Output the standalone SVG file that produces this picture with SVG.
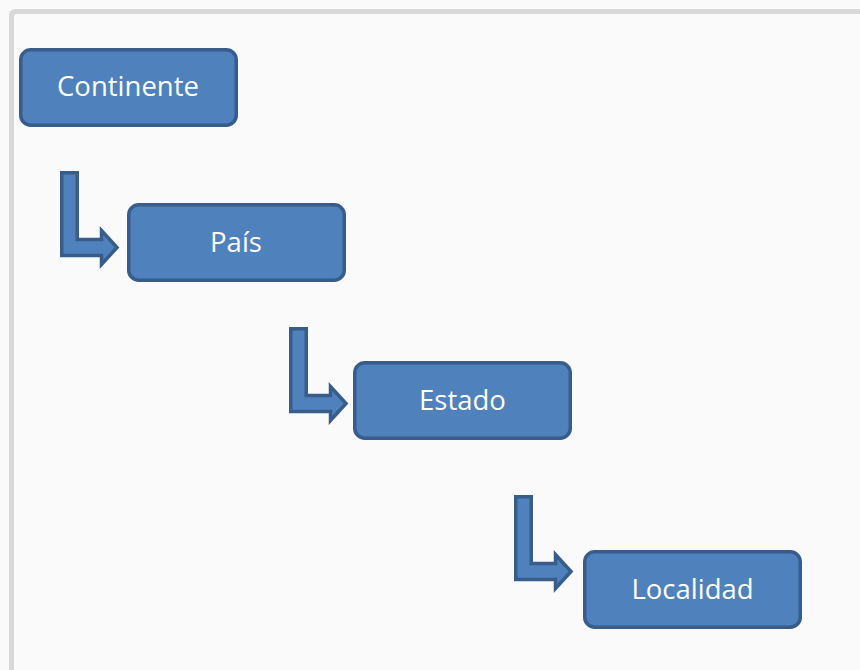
<svg xmlns="http://www.w3.org/2000/svg" width="860" height="670" viewBox="0 0 860 670">
  <defs>
    <style>
      .box { fill: #4f81bd; stroke: #385d8a; stroke-width: 3.5; }
      .arrow { fill: #4f81bd; stroke: #385d8a; stroke-width: 3.5; stroke-linejoin: miter; }
      .label { font-family: "Open Sans", "Noto Sans", "Liberation Sans", sans-serif; font-size: 27.5px; fill: #ffffff; text-anchor: middle; }
    </style>
    <!-- bent arrow: down then right -->
    <path id="bentArrow" class="arrow" d="M1.75,1.75 H17.25 V68.5 H41.5 V59.5 L57,76.5 L41.5,93.5 V84.5 H1.75 Z"/>
  </defs>

  <!-- page background and frame -->
  <rect x="0" y="0" width="860" height="670" fill="#fafafa"/>
  <path d="M11.5,670 V16 Q11.5,11.5 16,11.5 H860" fill="none" stroke="#d8d8d8" stroke-width="5"/>

  <g id="connectors">
    <use href="#bentArrow" x="60" y="171"/>
    <use href="#bentArrow" x="289" y="327"/>
    <use href="#bentArrow" x="514" y="495"/>
  </g>

  <g id="continente">
    <rect class="box" x="20.75" y="49.75" width="215.5" height="75.5" rx="10"/>
    <text class="label" x="128" y="96">Continente</text>
  </g>

  <g id="pais">
    <rect class="box" x="128.75" y="204.75" width="215.5" height="75.5" rx="10"/>
    <text class="label" x="236" y="252">País</text>
  </g>

  <g id="estado">
    <rect class="box" x="354.75" y="362.75" width="215.5" height="75.5" rx="10"/>
    <text class="label" x="462.5" y="410">Estado</text>
  </g>

  <g id="localidad">
    <rect class="box" x="584.75" y="551.75" width="215.5" height="75.5" rx="10"/>
    <text class="label" x="692.5" y="599">Localidad</text>
  </g>
</svg>
